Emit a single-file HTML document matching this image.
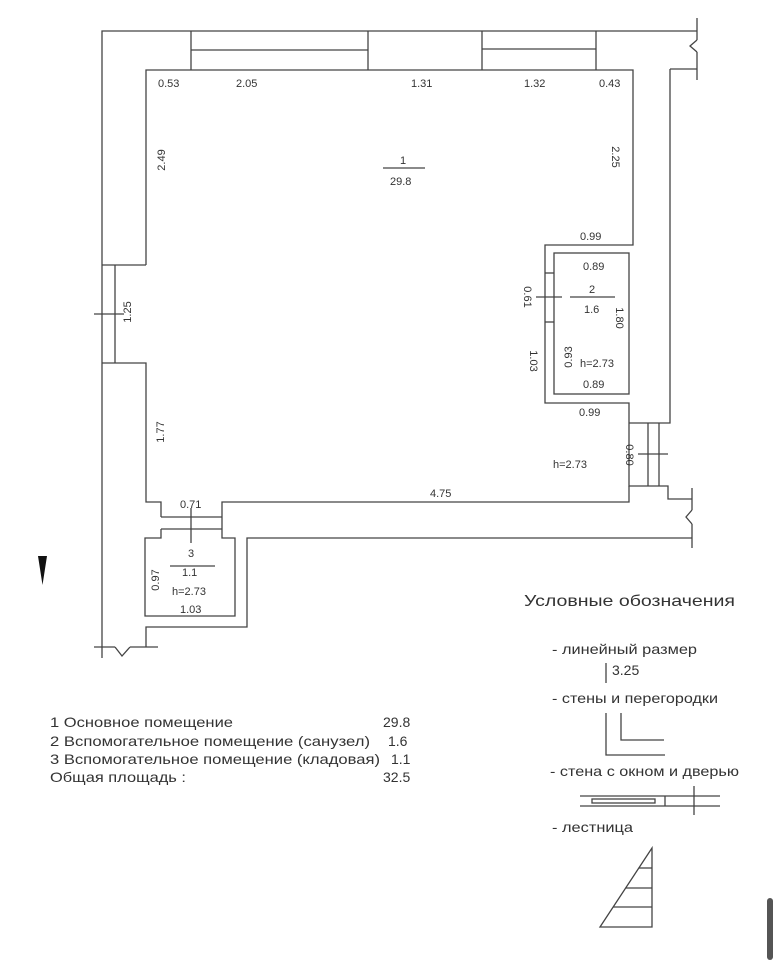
<!DOCTYPE html>
<html><head><meta charset="utf-8"><style>
html,body{margin:0;padding:0;background:#fff;}
svg{display:block;}
text{font-family:"Liberation Sans",sans-serif;fill:#333;}
</style></head><body>
<svg width="782" height="960" viewBox="0 0 782 960" xmlns="http://www.w3.org/2000/svg">
<g fill="none" stroke="#444" stroke-width="1.3">
<polyline points="102,658 102,31 697,31"/>
<line x1="697" y1="18" x2="697" y2="40"/><polyline points="697,40 690,46 697,52"/><line x1="697" y1="52" x2="697" y2="80"/>
<line x1="670" y1="69" x2="697" y2="69"/>
<line x1="191" y1="31" x2="191" y2="70"/><line x1="368" y1="31" x2="368" y2="70"/>
<line x1="482" y1="31" x2="482" y2="70"/><line x1="596" y1="31" x2="596" y2="70"/>
<line x1="191" y1="50" x2="368" y2="50"/><line x1="482" y1="49" x2="596" y2="49"/>
<polyline points="146,265 146,70 633,70 633,245 545,245 545,403 629,403 629,486 668,486 668,499 692,499"/>
<line x1="102" y1="265" x2="146" y2="265"/>
<line x1="115" y1="265" x2="115" y2="363"/>
<line x1="94" y1="314" x2="124" y2="314"/>
<polyline points="102,363 146,363 146,502 161,502 161,517"/>
<polyline points="670,69 670,423 629,423"/>
<line x1="648" y1="423" x2="648" y2="486"/><line x1="659" y1="423" x2="659" y2="486"/>
<line x1="638" y1="454" x2="668" y2="454"/>
<rect x="554" y="253" width="75" height="141"/>
<line x1="545" y1="273" x2="554" y2="273"/><line x1="545" y1="322" x2="554" y2="322"/>
<line x1="536" y1="297" x2="562" y2="297"/>
<polyline points="629,486 629,502 222,502 222,538 235,538 235,616 145,616 145,538 161,538 161,529"/>
<line x1="161" y1="517" x2="222" y2="517"/><line x1="161" y1="529" x2="222" y2="529"/>
<line x1="191" y1="508" x2="191" y2="543"/>
<polyline points="692,538 247,538 247,627 146,627 146,647"/>
<line x1="692" y1="488" x2="692" y2="510"/><polyline points="692,510 686,517 692,524"/><line x1="692" y1="524" x2="692" y2="548"/>
<line x1="94" y1="647" x2="115" y2="647"/><polyline points="115,647 122,656 130,647"/><line x1="130" y1="647" x2="158" y2="647"/>
<line x1="383" y1="168" x2="425" y2="168"/>
<line x1="570" y1="297" x2="615" y2="297"/>
<line x1="170" y1="566" x2="215" y2="566"/>
<line x1="606" y1="663" x2="606" y2="683"/>
<polyline points="606,713 606,755 665,755"/><polyline points="621,713 621,740 664,740"/>
<line x1="580" y1="796" x2="720" y2="796"/><line x1="580" y1="806" x2="720" y2="806"/>
<rect x="592" y="799" width="63" height="4"/><line x1="665" y1="796" x2="665" y2="806"/>
<line x1="694" y1="786" x2="694" y2="815"/>
<polygon points="652,848 600,927 652,927"/>
<line x1="639" y1="868" x2="652" y2="868"/><line x1="626" y1="888" x2="652" y2="888"/><line x1="613" y1="907" x2="652" y2="907"/>
</g>
<polygon points="38,556 47,556 42.5,585" fill="#111"/>
<rect x="767" y="898" width="6" height="62" rx="3" fill="#555"/>
<g font-size="11">
<text x="158" y="87">0.53</text><text x="236" y="87">2.05</text><text x="411" y="87">1.31</text>
<text x="524" y="87">1.32</text><text x="599" y="87">0.43</text>
<text x="400" y="164">1</text><text x="390" y="185">29.8</text>
<text x="580" y="240">0.99</text><text x="583" y="270">0.89</text>
<text x="589" y="293">2</text><text x="584" y="313">1.6</text>
<text x="580" y="367">h=2.73</text><text x="583" y="388">0.89</text>
<text x="579" y="416">0.99</text><text x="553" y="468">h=2.73</text>
<text x="430" y="497">4.75</text><text x="180" y="508">0.71</text>
<text x="188" y="557">3</text><text x="182" y="576">1.1</text>
<text x="172" y="595">h=2.73</text><text x="180" y="613">1.03</text>
<text transform="translate(165,160) rotate(-90)" text-anchor="middle">2.49</text>
<text transform="translate(131,312) rotate(-90)" text-anchor="middle">1.25</text>
<text transform="translate(164,432) rotate(-90)" text-anchor="middle">1.77</text>
<text transform="translate(159,580) rotate(-90)" text-anchor="middle">0.97</text>
<text transform="translate(572,357) rotate(-90)" text-anchor="middle">0.93</text>
<text transform="translate(612,157) rotate(90)" text-anchor="middle">2.25</text>
<text transform="translate(524,297) rotate(90)" text-anchor="middle">0.61</text>
<text transform="translate(616,318) rotate(90)" text-anchor="middle">1.80</text>
<text transform="translate(530,361) rotate(90)" text-anchor="middle">1.03</text>
<text transform="translate(626,455) rotate(90)" text-anchor="middle">0.80</text>
</g>
<text x="524" y="606" font-size="16" textLength="211" lengthAdjust="spacingAndGlyphs">Условные обозначения</text>
<g font-size="14">
<text x="552" y="654" textLength="145" lengthAdjust="spacingAndGlyphs">- линейный размер</text>
<text x="612" y="675">3.25</text>
<text x="552" y="703" textLength="166" lengthAdjust="spacingAndGlyphs">- стены и перегородки</text>
<text x="550" y="776" textLength="189" lengthAdjust="spacingAndGlyphs">- стена с окном и дверью</text>
<text x="552" y="832" textLength="81" lengthAdjust="spacingAndGlyphs">- лестница</text>
<text x="50" y="727" textLength="183" lengthAdjust="spacingAndGlyphs">1 Основное помещение</text><text x="383" y="727">29.8</text>
<text x="50" y="746" textLength="320" lengthAdjust="spacingAndGlyphs">2 Вспомогательное помещение (санузел)</text><text x="388" y="746">1.6</text>
<text x="50" y="764" textLength="330" lengthAdjust="spacingAndGlyphs">3 Вспомогательное помещение (кладовая)</text><text x="391" y="764">1.1</text>
<text x="50" y="782" textLength="136" lengthAdjust="spacingAndGlyphs">Общая площадь :</text><text x="383" y="782">32.5</text>
</g>
</svg>
</body></html>
